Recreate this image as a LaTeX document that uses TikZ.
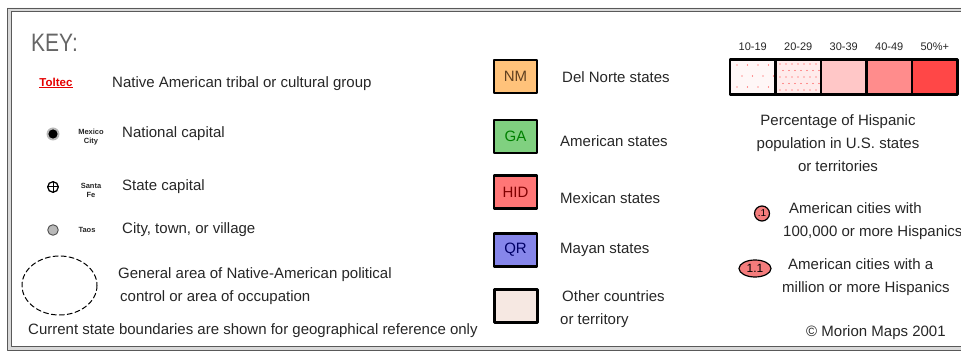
\documentclass[tikz,border=0pt]{standalone}
\usepackage{fontspec}
\setmainfont{Liberation Sans}
\usetikzlibrary{positioning,shapes.geometric}

\definecolor{keyink}{HTML}{262626}
\definecolor{delnorte}{HTML}{FFC27A}
\definecolor{amerstate}{HTML}{80D080}
\definecolor{mexstate}{HTML}{FF7676}
\definecolor{mayastate}{HTML}{8686EA}
\definecolor{othercountry}{HTML}{F6E8E2}
\definecolor{cityred}{HTML}{F47C7C}

\begin{document}
\begin{tikzpicture}[x=1pt, y=-1pt, line cap=round, line join=round,
	txt/.style={font=\fontsize{15}{23}\selectfont, text=keyink, inner sep=0pt, anchor=west, align=left},
	tinylbl/.style={font=\fontsize{7.5}{9}\selectfont\bfseries, text=keyink, inner sep=0pt, align=center},
	statebox/.style={draw=black, line width=2.6pt, minimum width=43pt, minimum height=33pt, inner sep=0pt, font=\fontsize{15}{18}\selectfont},
	pctbox/.style={draw=black, line width=2.2pt, minimum width=45.5pt, minimum height=35pt, inner sep=0pt},
	pctlbl/.style={font=\fontsize{11}{13}\selectfont, text=keyink, inner sep=0pt}]
	
	\useasboundingbox (0,0) rectangle (961,352);
	
	% double frame, open to the right
	\fill[gray!30, even odd rule] (7,8) rectangle (975,350) (11,11.5) rectangle (975,346.5);
	\draw[gray!70!black, line width=0.9pt] (975,8) -- (7,8) -- (7,350) -- (975,350);
	\draw[gray!70!black, line width=0.9pt] (975,11.5) -- (11,11.5) -- (11,346.5) -- (975,346.5);
	
	\node[anchor=west, inner sep=0pt, text=gray!80!black, font=\fontsize{21}{24}\selectfont] (key) at (31,43) {\scalebox{1}[1.2]{KEY:}};
	
	% left column: symbols
	\node[inner sep=0pt, text=red!90!black, font=\fontsize{11.5}{12}\selectfont\bfseries] (toltec) at (56,83) {\underline{Toltec}};
	\node[txt] (tribal) at (112,84) {Native American tribal or cultural group};
	
	\fill[gray!55] (53,134) circle (6.5);
	\fill[black] (53,134) circle (4.6);
	\node[tinylbl] (mexcity) at (91,137) {Mexico\\City};
	\node[txt] (natcap) at (122,134) {National capital};
	
	\draw[black, line width=1.3pt] (53,187) circle (5.3);
	\draw[black, line width=1pt] (47.7,187) -- (58.3,187) (53,181.7) -- (53,192.3);
	\node[tinylbl] (santafe) at (91,190) {Santa\\Fe};
	\node[txt] (statecap) at (122,187) {State capital};
	
	\draw[fill=gray!55, draw=black!70, line width=0.9pt] (53,230) circle (5.3);
	\node[tinylbl] (taos) at (87,230) {Taos};
	\node[txt] (village) at (122,230) {City, town, or village};
	
	\draw[black, line width=1pt, dash pattern=on 5pt off 3pt] (59.5,285.5) ellipse (37.5 and 29.5);
	\node[txt] (natarea) at (118,286.5) {General area of Native-American political\\\hspace*{2pt}control or area of occupation};
	
	\node[txt] (boundaries) at (28,331) {Current state boundaries are shown for geographical reference only};
	
	% middle column: state types
	\node[statebox, fill=delnorte, text=brown!50!black] (nm) at (515.5,76.5) {NM};
	\node[txt] (delnortelbl) at (562,77) {Del Norte states};
	
	\node[statebox, fill=amerstate, text=green!50!black] (ga) at (515.5,136.5) {GA};
	\node[txt] (amerlbl) at (560,141) {American states};
	
	\node[statebox, fill=mexstate, text=red!50!black] (hid) at (515.5,192) {HID};
	\node[txt] (mexlbl) at (560,198) {Mexican states};
	
	\node[statebox, fill=mayastate, text=blue!40!black] (qr) at (515.5,250) {QR};
	\node[txt] (mayalbl) at (560,250) {Mayan states};
	
	\node[statebox, fill=othercountry, line width=2.2pt] (other) at (516,306) {};
	\node[txt] (otherlbl) at (560,309.5) {\hspace*{2pt}Other countries\\or territory};
	
	% right column: percentage scale
	\foreach \lbl/\shade [count=\i from 0] in {10-19/3, 20-29/8, 30-39/22, 40-49/45, 50\%+/72} {
		\node[pctbox, fill=red!\shade] (pct\i) at (752.75+45.5*\i,77) {};
		\node[pctlbl] (pctlbl\i) at (752.75+45.5*\i,47) {\lbl};
	}
	\foreach \i in {0,...,3} \foreach \j in {0,...,2}
		\fill[red!80] ({737+\i*10.5+mod(\j,2)*5},{65+\j*11}) circle (0.7);
	\foreach \i in {0,...,6} \foreach \j in {0,...,4}
		\fill[red!80] ({780+\i*6+mod(\j,2)*3},{64+\j*6.5}) circle (0.7);
	
	\node[txt, anchor=center, align=center] (pctnote) at (838,143) {Percentage of Hispanic\\population in U.S. states\\or territories};
	
	% cities
	\node[draw=black, line width=1.2pt, fill=cityred, circle, minimum size=15pt, inner sep=0pt, font=\fontsize{10}{11}\selectfont] (city1) at (762,213.5) {.1};
	\node[txt] (city1lbl) at (783,221) {\hspace*{6pt}American cities with\\100,000 or more Hispanics};
	
	\node[draw=black, line width=1.2pt, fill=cityred, ellipse, minimum width=32pt, minimum height=17pt, inner sep=0pt, font=\fontsize{12}{13}\selectfont] (city11) at (755,268.5) {1.1};
	\node[txt] (city11lbl) at (782,277.5) {\hspace*{6pt}American cities with a\\million or more Hispanics};
	
	\node[txt] (copyright) at (806,333) {\textcopyright\ Morion Maps 2001};
	
\end{tikzpicture}
\end{document}
